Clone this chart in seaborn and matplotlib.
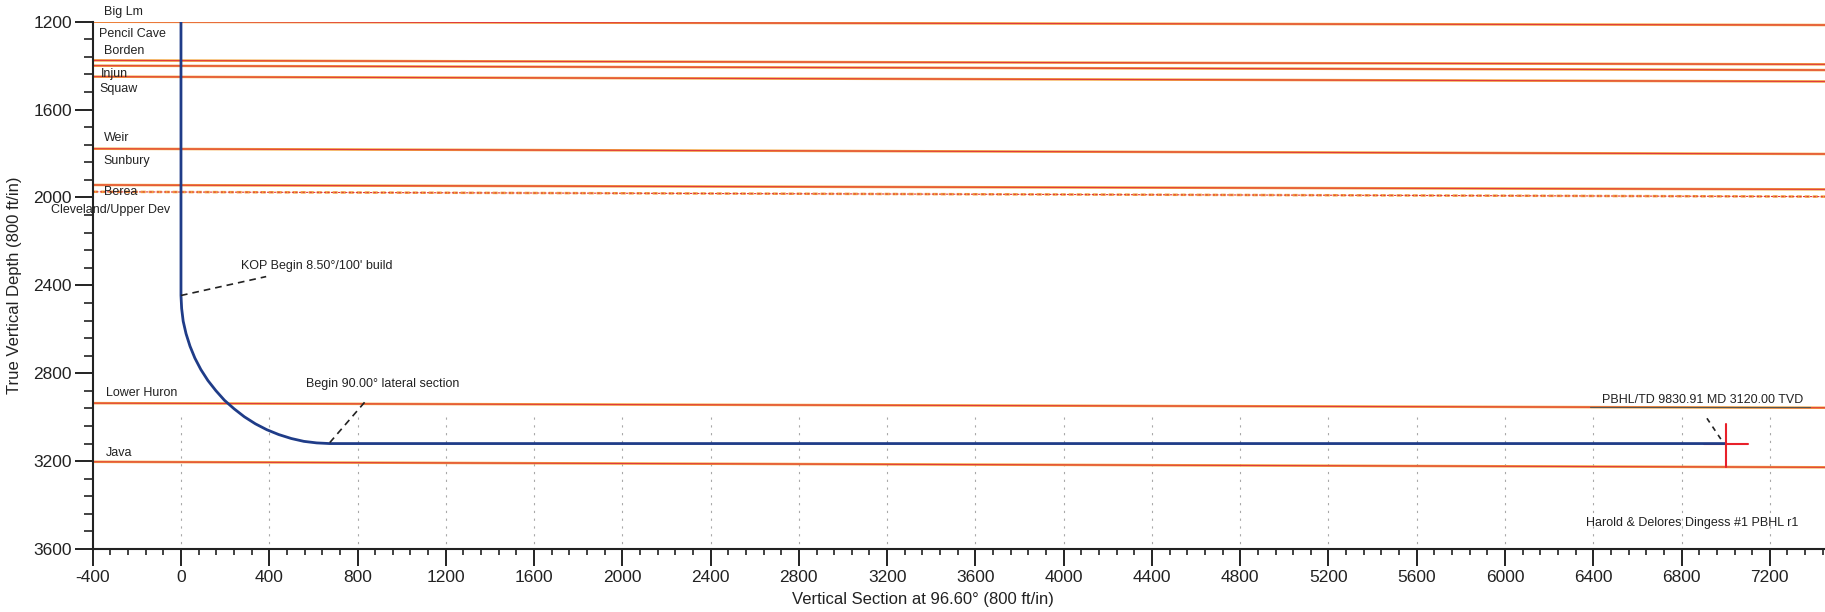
import matplotlib
matplotlib.use("Agg")
import matplotlib.pyplot as plt
import seaborn as sns
import pandas as pd
from matplotlib.ticker import MultipleLocator

# wellbore path (vertical section ft, TVD ft)
well_vs = [0, 0, 3, 10, 23, 41, 63, 90, 122, 158, 197, 241, 287, 337, 389, 443, 500,
           557, 615, 674, 7000]
well_tvd = [1200, 2446, 2505, 2563, 2620, 2677, 2731, 2783, 2833, 2879, 2923, 2962, 2998,
            3030, 3057, 3079, 3097, 3110, 3117, 3120, 3120]

# formation top lines: depth at the left edge and at the right edge
line_tvd_left = [1200, 1376, 1400, 1450, 1778, 1943, 1974, 2936, 3203]
line_tvd_right = [1215, 1394, 1420, 1472, 1802, 1963, 1996, 2957, 3228]
line_dashed = [False, False, False, False, False, False, True, False, False]

# formation labels
form_names = ["Big Lm", "Pencil Cave", "Borden", "Injun", "Squaw", "Weir", "Sunbury",
              "Berea", "Cleveland/Upper Dev", "Lower Huron", "Java"]
form_label_vs = [-349, -370, -349, -362, -370, -349, -353, -349, -590, -340, -340]
form_label_tvd = [1154, 1257, 1332, 1438, 1508, 1730, 1834, 1975, 2058, 2891, 3161]

# target at TD
target_vs = 7000
target_tvd = 3120
target_h = [6900, 7100]
target_v = [3030, 3226]

x_edges = [-400, 7450]
grid_x = list(range(0, 7201, 400))

sns.set_style("ticks")
plt.rcParams["font.family"] = ["Liberation Sans", "DejaVu Sans"]
plt.rcParams["axes.unicode_minus"] = False
txt = "#222222"

fig = plt.figure(figsize=(18.25, 6.12), dpi=100)
ax = fig.add_axes([0.0508, 0.1029, 0.9492, 0.8616])

# faint dotted grid left from the plotter
ax.vlines(grid_x, 3000, 3600, colors="#a8a8a8", linestyles=(0, (2, 5)), linewidth=0.8)

for left, right, dashed in zip(line_tvd_left, line_tvd_right, line_dashed):
    df = pd.DataFrame({"vs": x_edges, "tvd": [left, right]})
    ls = (0, (2, 1.2)) if dashed else "-"
    sns.lineplot(data=df, x="vs", y="tvd", ax=ax, color="#f2a33a", linewidth=1.8,
                 linestyle=ls, estimator=None, sort=False)
    sns.lineplot(data=df, x="vs", y="tvd", ax=ax, color="#e0393e", linewidth=0.8,
                 linestyle=ls, estimator=None, sort=False)

for name, x, y in zip(form_names, form_label_vs, form_label_tvd):
    ax.text(x, y, name, fontsize=9, color=txt, ha="left", va="center", clip_on=False)

well = pd.DataFrame({"vs": well_vs, "tvd": well_tvd})
sns.lineplot(data=well, x="vs", y="tvd", ax=ax, color="#1f3c88", linewidth=2,
             estimator=None, sort=False)

# target cross
ax.plot(target_h, [target_tvd, target_tvd], color="#e8202a", linewidth=1.5, zorder=1.5)
ax.plot([target_vs, target_vs], target_v, color="#e8202a", linewidth=1.5)

# annotations
ax.plot([0, 386], [2446, 2360], color="#222222", linestyle=(0, (4, 3)), linewidth=1.2)
ax.text(273, 2312, "KOP Begin 8.50°/100' build", fontsize=9, color=txt, va="center")
ax.plot([674, 845], [3116, 2917], color="#222222", linestyle=(0, (4, 3)), linewidth=1.2)
ax.text(567, 2849, "Begin 90.00° lateral section", fontsize=9, color=txt, va="center")
ax.plot([6915, 6985], [3005, 3110], color="#222222", linestyle=(0, (3, 3)), linewidth=1.2)
ax.plot([6385, 7380], [2955, 2955], color="#555555", linewidth=0.8)
ax.text(6440, 2950, "PBHL/TD 9830.91 MD 3120.00 TVD", fontsize=9, color=txt, va="bottom")
ax.text(6367, 3481, "Harold & Delores Dingess #1 PBHL r1", fontsize=9, color=txt, va="center")

ax.set_xlim(x_edges)
ax.set_ylim(3600, 1200)
ax.xaxis.set_major_locator(MultipleLocator(400))
ax.xaxis.set_minor_locator(MultipleLocator(80))
ax.yaxis.set_major_locator(MultipleLocator(400))
ax.yaxis.set_minor_locator(MultipleLocator(80))
ax.tick_params(axis="x", which="major", length=12, width=1.4, labelsize=12.5, colors="#222222", pad=3)
ax.tick_params(axis="x", which="minor", length=4.5, width=1.2, colors="#222222")
ax.tick_params(axis="y", which="major", length=13, width=1.4, labelsize=12.5, colors="#222222", pad=2)
ax.tick_params(axis="y", which="minor", length=6.5, width=1.2, colors="#222222")
for side in ["top", "right"]:
    ax.spines[side].set_visible(False)
for side in ["left", "bottom"]:
    ax.spines[side].set_linewidth(1.5)
    ax.spines[side].set_color("#222222")

ax.set_xlabel("Vertical Section at 96.60° (800 ft/in)", fontsize=12, color=txt)
ax.set_ylabel("True Vertical Depth (800 ft/in)", fontsize=12, color=txt)
ax.xaxis.set_label_coords(0.479, -0.082)
ax.yaxis.set_label_coords(-0.041, 0.5)

fig.savefig("out.png", dpi=100)
